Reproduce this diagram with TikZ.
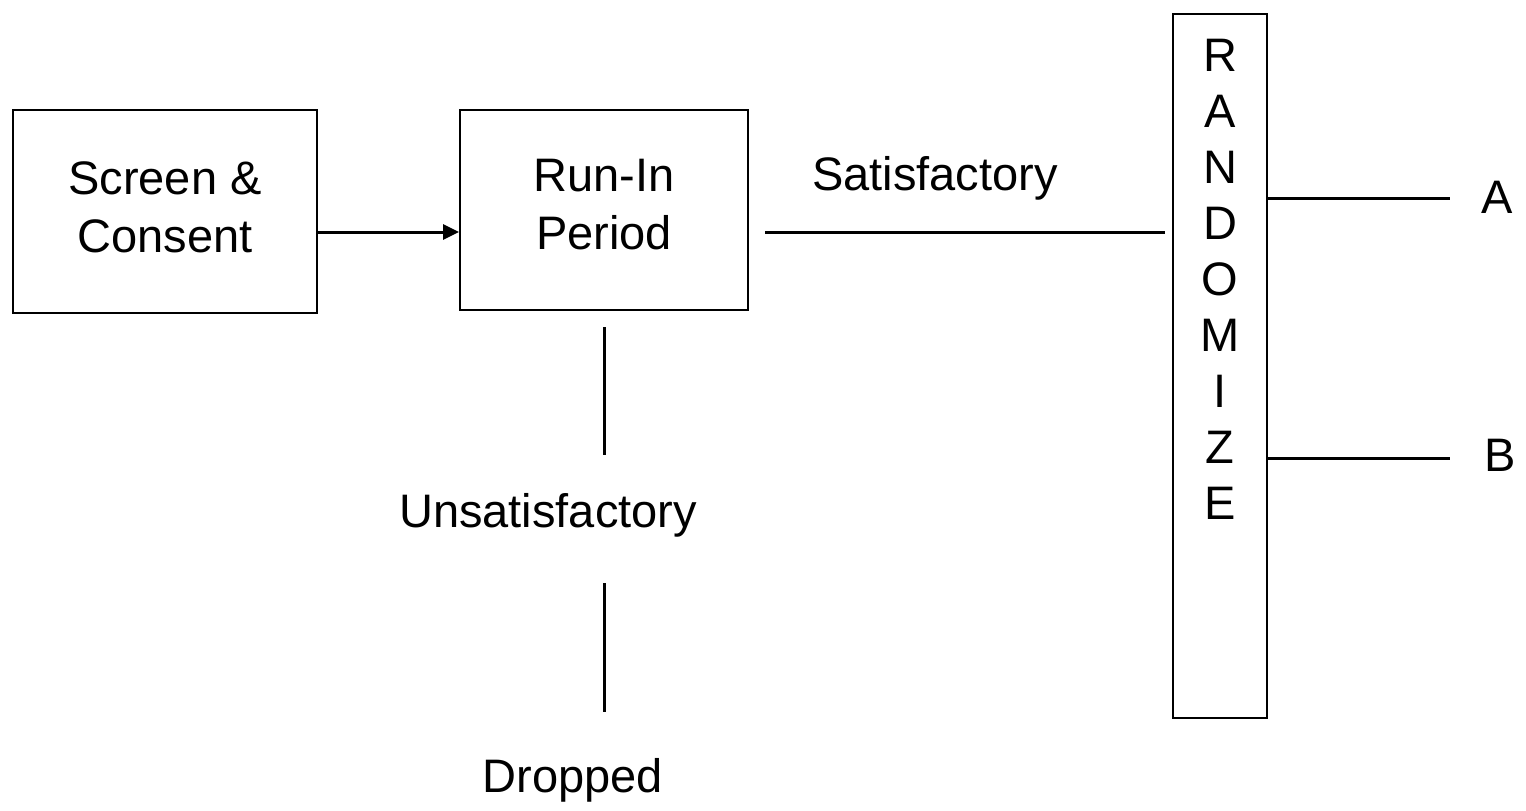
\documentclass[tikz,border=0pt]{standalone}
\usepackage{fontspec}
\setmainfont{Liberation Sans}
\usetikzlibrary{arrows.meta}
\begin{document}
\begin{tikzpicture}[x=1pt,y=-1pt,
  line width=3pt,
  lbl/.style={inner sep=0pt,font=\fontsize{47}{58}\selectfont,align=center},
  stage/.style={draw,line width=2pt,inner sep=0pt},
  link/.style={line width=3pt},
  arr/.style={link,-{Triangle[length=16pt,width=15pt]}}]
\useasboundingbox (0,0) rectangle (1526,811);
% stage boxes
\node[stage,minimum width=304pt,minimum height=203pt] (screen) at (165,211.5) {};
\node[lbl] (screent) at (165,207) {Screen \&\\Consent};
\node[stage,minimum width=288pt,minimum height=200pt] (runin) at (604,210) {};
\node[lbl] (runint) at (604,205) {Run-In\\Period};
\node[stage,minimum width=94pt,minimum height=704pt] (rand) at (1220,366) {};
% vertical label
\foreach \ch [count=\i] in {R,A,N,D,O,M,I,Z,E}
  \node[lbl] (r\i) at (1220,{55+56*(\i-1)}) {\ch};
% labels
\node[lbl] (sat) at (935,178) {Satisfactory};
\node[lbl] (unsat) at (548,515) {Unsatisfactory};
\node[lbl] (drop) at (573,780) {Dropped};
\node[lbl] (a) at (1497,197) {A};
\node[lbl] (b) at (1500,455) {B};
% anchor points for the open line segments
\coordinate (s1) at (765,232);
\coordinate (s2) at (1165,232);
\coordinate (u1) at (604,327);
\coordinate (u2) at (604,455);
\coordinate (d1) at (604,583);
\coordinate (d2) at (604,712);
\coordinate (a1) at (1450,198);
\coordinate (b1) at (1450,458);
% connectors
\draw[arr] (screen.east |- 0,232) -- (runin.west |- 0,232);
\draw[link] (s1) -- (s2);
\draw[link] (u1) -- (u2);
\draw[link] (d1) -- (d2);
\draw[link] (rand.east |- a1) -- (a1);
\draw[link] (rand.east |- b1) -- (b1);
\end{tikzpicture}
\end{document}
